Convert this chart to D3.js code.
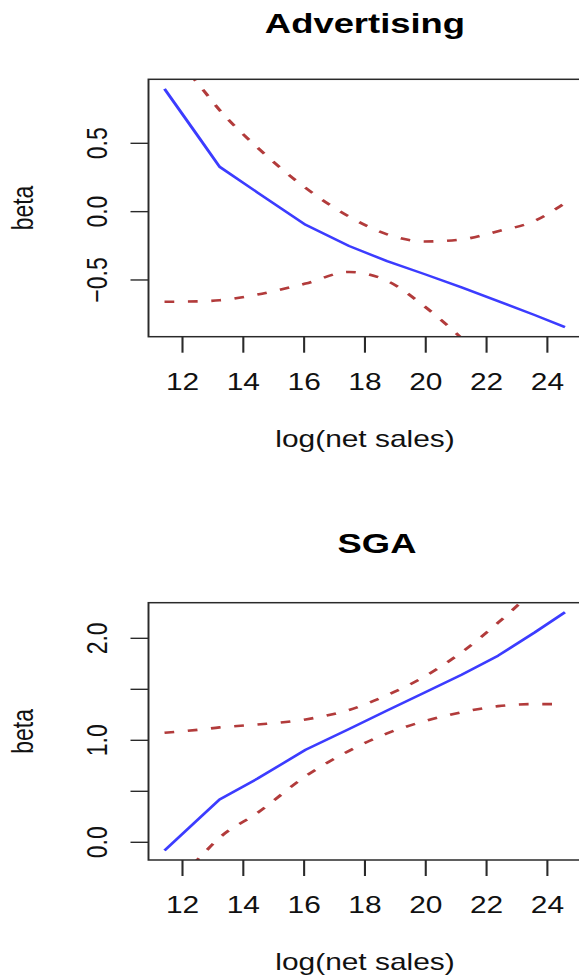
<!DOCTYPE html>
<html>
<head>
<meta charset="utf-8">
<script src="https://cdn.jsdelivr.net/npm/d3@7"></script>
<style>
  html, body { margin: 0; padding: 0; background: #fff; }
  svg { display: block; font-family: "Liberation Sans", Arial, Helvetica, sans-serif; }
</style>
</head>
<body>
<svg id="chart"></svg>
<script>
// x grid shared by all curves
const logSales = [11.43, 12.6, 13.24, 14.49, 16.07, 17.5, 18.75, 19.97, 21.2, 22.4, 23.6, 24.6];

// Advertising: estimate and band
const advBeta  = [0.895, 0.527, 0.325, 0.136, -0.10, -0.255, -0.366, -0.46, -0.558, -0.658, -0.76, -0.849];
const advUpper = [1.22, 0.915, 0.74, 0.465, 0.17, -0.04, -0.17, -0.222, -0.207, -0.147, -0.072, 0.06];
const advLower = [-0.663, -0.66, -0.652, -0.61, -0.53, -0.445, -0.51, -0.695, -0.93, -1.2, -1.5, -1.75];

// SGA: estimate and band
const sgaBeta  = [-0.085, 0.238, 0.415, 0.62, 0.902, 1.107, 1.287, 1.461, 1.638, 1.825, 2.052, 2.251];
const sgaUpper = [1.069, 1.10, 1.122, 1.15, 1.20, 1.293, 1.438, 1.618, 1.858, 2.148, 2.48, 2.8];
const sgaLower = [-0.5, -0.15, 0.04, 0.284, 0.643, 0.892, 1.063, 1.182, 1.27, 1.33, 1.35, 1.35];

const xTicks = [12, 14, 16, 18, 20, 22, 24];
const advYTicks = [-0.5, 0, 0.5];
const sgaYTicks = [0, 0.5, 1, 1.5, 2];
const sgaYLabels = [0, 1, 2];

const W = 579, H = 979;
const sx = 1.3;           // the whole picture is stretched sideways
const vw = W / sx;

const svg = d3.select('#chart')
  .attr('width', W)
  .attr('height', H)
  .attr('viewBox', `0 0 ${vw} ${H}`)
  .attr('preserveAspectRatio', 'none');

// R style axis limits: data range plus 4%
const pad = e => { const d = (e[1] - e[0]) * 0.04; return [e[0] - d, e[1] + d]; };

const x = d3.scaleLinear()
  .domain(pad(d3.extent(logSales)))
  .range([148.5 / sx, 581 / sx]);

const fmt = v => (v < 0 ? '\u2212' : '') + Math.abs(v).toFixed(1);

const panels = [
  { title: 'Advertising', beta: advBeta, upper: advUpper, lower: advLower,
    yTicks: advYTicks, yLabels: advYTicks, top: 79.3, bottom: 336.7, titleX: 365, titleY: 33 },
  { title: 'SGA', beta: sgaBeta, upper: sgaUpper, lower: sgaLower,
    yTicks: sgaYTicks, yLabels: sgaYLabels, top: 602.7, bottom: 860, titleX: 377, titleY: 553 }
];

const ink = '#2a2a2a';

panels.forEach((p, i) => {
  const y = d3.scaleLinear()
    .domain(pad(d3.extent(p.beta)))
    .range([p.bottom, p.top]);

  const g = svg.append('g');
  const x0 = x.range()[0], x1 = x.range()[1];

  // clip region = plot box
  g.append('clipPath').attr('id', 'clip' + i)
    .append('rect')
    .attr('x', x0).attr('y', p.top)
    .attr('width', x1 - x0).attr('height', p.bottom - p.top);

  const betaLine = d3.line()
    .x((d, j) => x(logSales[j]))
    .y(d => y(d));
  // the bands are smooth curves
  const bandLine = d3.line()
    .x((d, j) => x(logSales[j]))
    .y(d => y(d))
    .curve(d3.curveMonotoneX);

  const plot = g.append('g').attr('clip-path', `url(#clip${i})`);

  [p.upper, p.lower].forEach(band => {
    plot.append('path')
      .attr('d', bandLine(band))
      .attr('fill', 'none')
      .attr('stroke', '#b23b3b')
      .attr('stroke-width', 2.6)
      .attr('stroke-dasharray', '7.5,10.5');
  });

  plot.append('path')
    .attr('d', betaLine(p.beta))
    .attr('fill', 'none')
    .attr('stroke', '#3c3cff')
    .attr('stroke-width', 2.4)
    .attr('stroke-linejoin', 'round');

  // box
  g.append('rect')
    .attr('x', x0).attr('y', p.top)
    .attr('width', x1 - x0).attr('height', p.bottom - p.top)
    .attr('fill', 'none')
    .attr('stroke', ink)
    .attr('stroke-width', 1.5);

  // x axis
  const xa = g.append('g')
    .attr('transform', `translate(0,${p.bottom})`)
    .call(d3.axisBottom(x).tickValues(xTicks).tickSize(16).tickFormat(d3.format('d')));
  xa.select('.domain').remove();
  xa.selectAll('line').attr('stroke', ink).attr('stroke-width', 1.6);
  xa.selectAll('text')
    .attr('y', 53).attr('dy', 0)
    .attr('fill', '#111')
    .style('font-size', '23px');

  // y axis, labels parallel to the axis
  const ya = g.append('g')
    .attr('transform', `translate(${x0},0)`)
    .call(d3.axisLeft(y).tickValues(p.yTicks).tickSize(18 / sx)
      .tickFormat(d => p.yLabels.includes(d) ? fmt(d) : ''));
  ya.select('.domain').remove();
  ya.selectAll('line').attr('stroke', ink).attr('stroke-width', 1.4);
  ya.selectAll('text')
    .attr('transform', 'rotate(-90)')
    .attr('x', 0).attr('y', -41.5 / sx).attr('dy', 0)
    .attr('text-anchor', 'middle')
    .attr('fill', '#111')
    .style('font-size', '23px');

  // titles and axis labels
  g.append('text')
    .attr('x', p.titleX / sx)
    .attr('y', p.titleY)
    .attr('text-anchor', 'middle')
    .style('font-size', '28px')
    .style('font-weight', 'bold')
    .attr('fill', '#000')
    .text(p.title);

  g.append('text')
    .attr('x', 365 / sx)
    .attr('y', p.bottom + 110)
    .attr('text-anchor', 'middle')
    .style('font-size', '23px')
    .attr('fill', '#111')
    .text('log(net sales)');

  g.append('text')
    .attr('transform', `translate(${33 / sx},${(p.top + p.bottom) / 2}) rotate(-90)`)
    .attr('text-anchor', 'middle')
    .style('font-size', '23px')
    .attr('fill', '#111')
    .text('beta');
});
</script>
</body>
</html>
